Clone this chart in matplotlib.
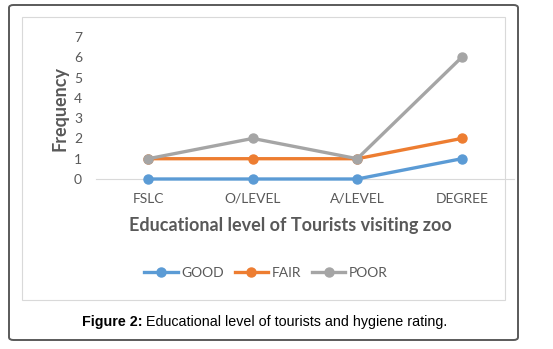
import matplotlib
matplotlib.use("Agg")
import matplotlib.pyplot as plt
from matplotlib.patches import FancyBboxPatch, Rectangle
from matplotlib.lines import Line2D

categories = ["FSLC", "O/LEVEL", "A/LEVEL", "DEGREE"]
good = [0, 0, 0, 1]
fair = [1, 1, 1, 2]
poor = [1, 2, 1, 6]
series_names = ["GOOD", "FAIR", "POOR"]
colors = ["#5b9bd5", "#ed7d31", "#a5a5a5"]
yticks = [0, 1, 2, 3, 4, 5, 6, 7]

W, H = 553, 349
fig = plt.figure(figsize=(W / 100, H / 100), dpi=100)
font = "Lato"
tick_col = "#595959"

# outer border
fig.patches.append(FancyBboxPatch((9 / W, 1 - 340 / H), 509 / W, 335 / H,
                                  boxstyle="round,pad=0,rounding_size=0.008",
                                  transform=fig.transFigure, fill=False,
                                  edgecolor="#5a5a5a", linewidth=1.4))
# inner chart border
fig.patches.append(Rectangle((22 / W, 1 - 300 / H), 483 / W, 283 / H,
                             transform=fig.transFigure, fill=False,
                             edgecolor="#d9d9d9", linewidth=0.8))

ax = fig.add_axes([96 / W, 1 - 179 / H, 418 / W, 142 / H])
x = list(range(len(categories)))
for vals, name, c in zip([good, fair, poor], series_names, colors):
    ax.plot(x, vals, color=c, lw=2.4, marker="o", ms=6.5, label=name,
            solid_capstyle="round", clip_on=False, zorder=3)

ax.set_xlim(-0.5, 3.5)
ax.set_ylim(0, 7)
ax.set_yticks(yticks)
ax.set_xticks(x)
ax.set_xticklabels(categories)
for s in ["top", "right", "left"]:
    ax.spines[s].set_visible(False)
ax.spines["bottom"].set_color("#d9d9d9")
ax.spines["bottom"].set_linewidth(0.8)
ax.spines["bottom"].set_zorder(1)
ax.tick_params(length=0, labelsize=10, labelcolor=tick_col)
ax.tick_params(axis="x", pad=10)
ax.tick_params(axis="y", pad=10)
for lab in ax.get_xticklabels() + ax.get_yticklabels():
    lab.set_fontfamily(font)

fig.text(60 / W, 1 - 108 / H, "Frequency", rotation=90, ha="center", va="center",
         fontsize=13, fontweight="bold", color=tick_col, family=font)
fig.text(290 / W, 1 - 226 / H, "Educational level of Tourists visiting zoo",
         ha="center", va="center", fontsize=13, fontweight="bold",
         color=tick_col, family=font)

handles = [Line2D([0], [0], color=c, lw=2.4, marker="o", ms=6.5) for c in colors]
fig.legend(handles, series_names, loc="center", bbox_to_anchor=(266 / W, 1 - 273 / H),
           ncol=3, frameon=False, handlelength=2.4, handletextpad=0.25,
           columnspacing=0.8, prop={"family": font, "size": 10},
           labelcolor=tick_col)

t1 = fig.text(82 / W, 1 - 322 / H, "Figure 2:", ha="left", va="center",
              fontsize=10.3, fontweight="bold", family="Liberation Sans", color="black")
fig.canvas.draw()
bb = t1.get_window_extent()
fig.text((bb.x1 + 3) / W, 1 - 322 / H, "Educational level of tourists and hygiene rating.",
         ha="left", va="center", fontsize=10.3, family="Liberation Sans", color="black")

fig.savefig("out.png", dpi=100)
